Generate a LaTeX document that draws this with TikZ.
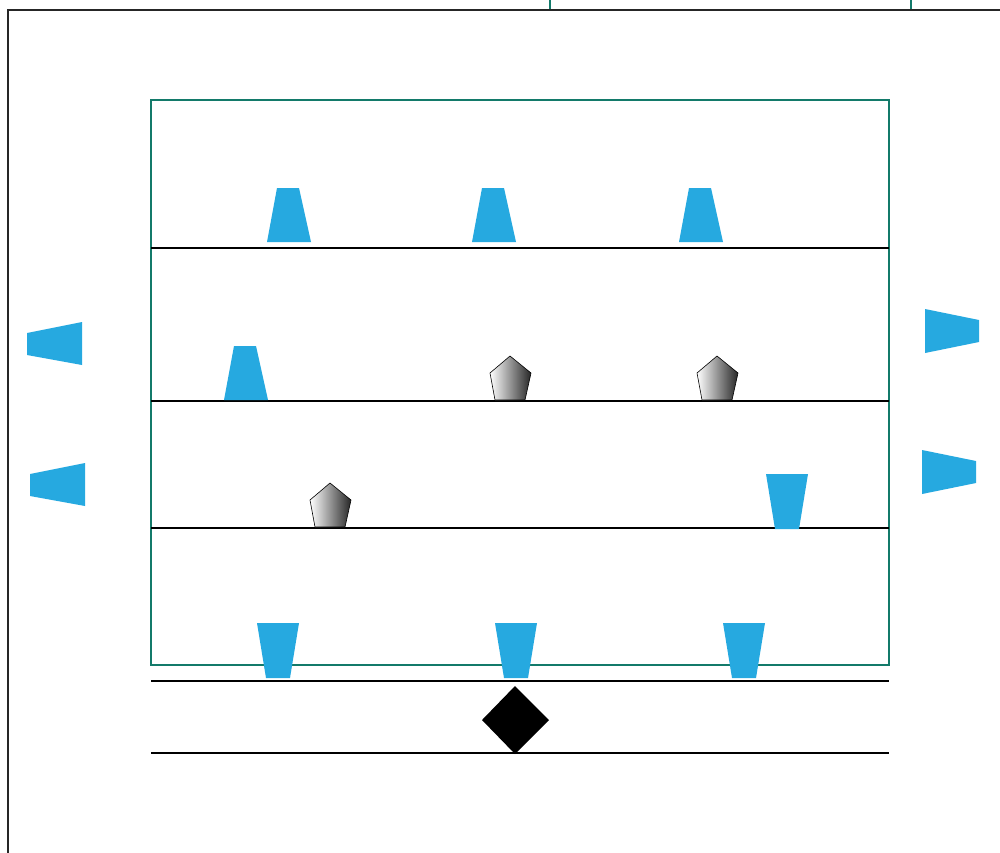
\documentclass[tikz,border=0pt]{standalone}
\begin{document}
\begin{tikzpicture}[x=1pt,y=-1pt,
  frameline/.style={draw=black!85, line width=2pt},
  zoneline/.style={draw=teal!70!black, line width=2pt},
  lane/.style={draw=black, line width=1.8pt},
  cone/.style={fill=cyan!60!blue!70, draw=none},
  dummy/.style={draw=black, line width=0.6pt, left color=white, right color=black!85, shading angle=90},
  marker/.style={fill=black}]
\definecolor{conecol}{RGB}{38,169,224}
\definecolor{zonecol}{RGB}{19,122,106}
\tikzset{cone/.style={fill=conecol, draw=none}, zoneline/.style={draw=zonecol, line width=2pt}}
\useasboundingbox (0,0) rectangle (1000,852);
\fill[white] (0,0) rectangle (1000,852);

% pitch outline and goal
\draw[frameline] (8,860) -- (8,10) -- (1010,10);
\draw[zoneline] (550,-5) -- (550,9) (911,-5) -- (911,9);

% playing zone and lanes
\draw[zoneline] (151,100) rectangle (889,665);
\foreach \yy in {248,401,528,681,753}
  \draw[lane] (151,\yy) -- (889,\yy);

% upright cones
\foreach \cx/\by in {289/242, 494/242, 701/242, 246/400}
  \fill[cone] (\cx-12,\by-54) -- (\cx+10,\by-54) -- (\cx+22,\by) -- (\cx-22,\by) -- cycle;

% inverted cones
\foreach \cx/\ty in {787/474, 278/623, 516/623, 744/623}
  \fill[cone] (\cx-21,\ty) -- (\cx+21,\ty) -- (\cx+12,\ty+55) -- (\cx-12,\ty+55) -- cycle;

% side cones pointing left
\foreach \lx/\cy in {27/344, 30/485}
  \fill[cone] (\lx,\cy-11) -- (\lx+55,\cy-22) -- (\lx+55,\cy+21) -- (\lx,\cy+11) -- cycle;

% side cones pointing right
\foreach \lx/\cy in {925/331, 922/472}
  \fill[cone] (\lx,\cy-22) -- (\lx+54,\cy-11) -- (\lx+54,\cy+11) -- (\lx,\cy+22) -- cycle;

% mannequins
\foreach \cx/\by in {510/401, 717/401, 330/528}
  \draw[dummy] (\cx,\by-45) -- (\cx+21,\by-28) -- (\cx+15,\by-1) -- (\cx-15,\by-1) -- (\cx-20,\by-28) -- cycle;

% start marker
\fill[marker] (515,686) -- (549,720) -- (515,754) -- (482,720) -- cycle;
\end{tikzpicture}
\end{document}
